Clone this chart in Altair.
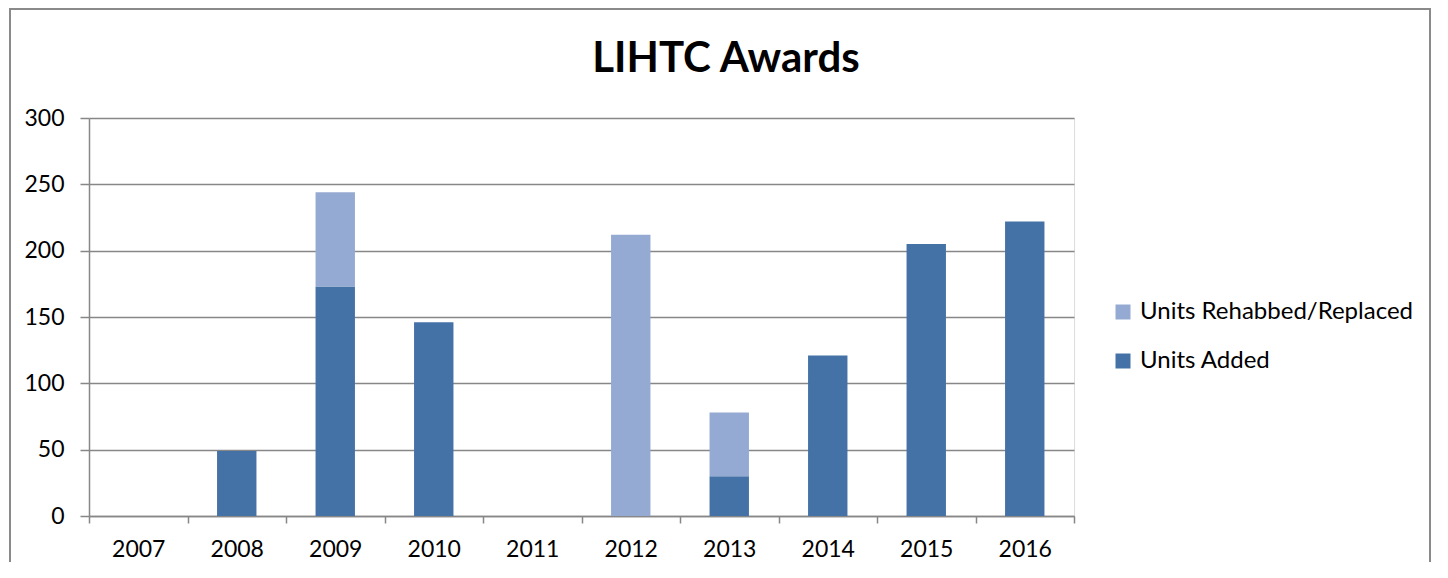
import altair as alt
import pandas as pd

years = ["2007", "2008", "2009", "2010", "2011", "2012", "2013", "2014", "2015", "2016"]
units_added = [0, 49, 173, 146, 0, 0, 30, 121, 205, 222]
units_rehab = [0, 0, 71, 0, 0, 212, 48, 0, 0, 0]
series = ["Units Rehabbed/Replaced", "Units Added"]
colors = ["#94AAD2", "#4472A7"]
y_ticks = [0, 50, 100, 150, 200, 250, 300]
title_text = "LIHTC Awards"

rows = []
for i, y in enumerate(years):
    rows.append({"year": y, "series": "Units Added", "value": units_added[i], "ord": 0})
    rows.append({"year": y, "series": "Units Rehabbed/Replaced", "value": units_rehab[i], "ord": 1})
df = pd.DataFrame(rows)

FONT = "Lato"
GRAY = "#878787"
W, H = 985, 398

bars = alt.Chart(df).mark_bar(width=alt.RelativeBandSize(0.4)).encode(
    x=alt.X("year:N", sort=years,
            scale=alt.Scale(paddingInner=0, paddingOuter=0),
            axis=alt.Axis(title=None, labelAngle=0, tickBand="extent",
                          tickSize=7, tickColor=GRAY, tickWidth=1.5,
                          domainColor=GRAY, domainWidth=1.5,
                          labelFont=FONT, labelFontSize=23, labelColor="#000000",
                          labelPadding=15, grid=False)),
    y=alt.Y("value:Q", stack="zero",
            scale=alt.Scale(domain=[0, 300], nice=False),
            axis=alt.Axis(title=None, values=y_ticks, tickSize=9, tickColor=GRAY,
                          tickWidth=1.5, domainColor=GRAY, domainWidth=1.5,
                          gridColor=GRAY, gridWidth=1.5,
                          labelFont=FONT, labelFontSize=23, labelColor="#000000",
                          labelPadding=16)),
    color=alt.Color("series:N", scale=alt.Scale(domain=series, range=colors),
                    legend=alt.Legend(title=None, orient="none", legendX=1022, legendY=182,
                                      symbolType="square", symbolSize=225,
                                      symbolStrokeWidth=0, labelFont=FONT,
                                      labelFontSize=24, labelColor="#000000",
                                      labelLimit=500,
                                      labelOffset=5, rowPadding=25, padding=0)),
    order=alt.Order("ord:Q"),
)

border = alt.Chart(alt.Data(values=[{"a": 1}])).mark_rect(
    fill="transparent", stroke="#8A8A8A", strokeWidth=2
).encode(
    x=alt.value(-79), x2=alt.value(1341), y=alt.value(-109), y2=alt.value(700)
)

title = alt.Chart(alt.Data(values=[{"t": title_text}])).mark_text(
    font=FONT, fontSize=42, fontWeight="bold", color="#000000",
    align="center", baseline="alphabetic"
).encode(text="t:N", x=alt.value(637), y=alt.value(-46))

chart = alt.layer(border, bars, title).properties(
    width=W, height=H,
    autosize=alt.AutoSizeParams(type="none"),
    padding={"left": 81, "top": 110, "right": 366, "bottom": 46},
).configure_view(stroke=None).configure(background="white")

chart.save("out.html", embed_options={"renderer": "svg", "actions": False})
